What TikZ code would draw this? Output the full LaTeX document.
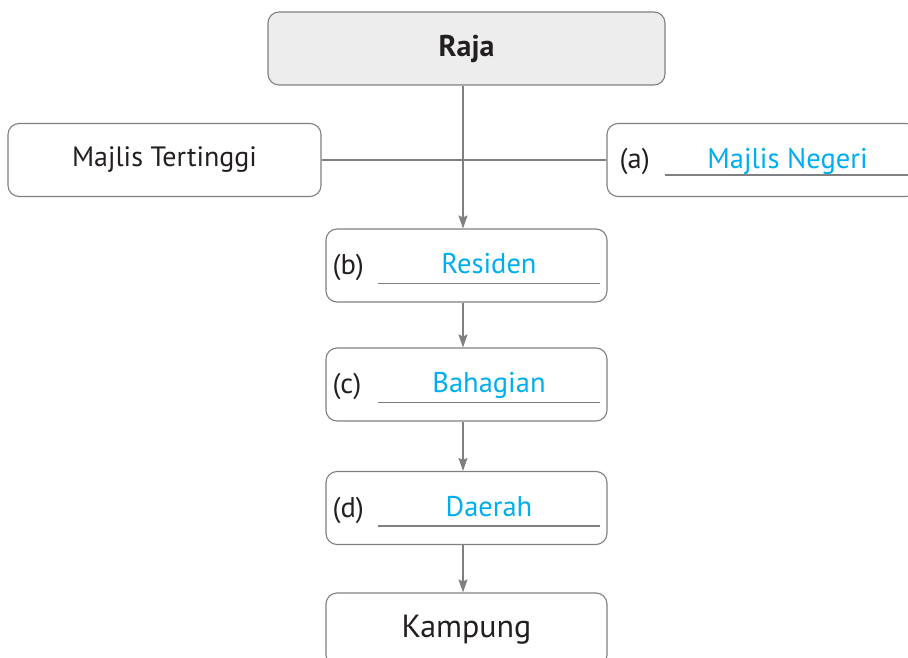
\documentclass[tikz,border=0pt]{standalone}
\usepackage{fontspec}
\setmainfont{PT Sans}
\usepackage{xcolor}
\usepackage{tikz}
\usetikzlibrary{calc,arrows.meta,positioning}
\definecolor{lineGray}{RGB}{128,128,130}
\definecolor{rajaFill}{RGB}{237,237,237}
\definecolor{ansBlue}{RGB}{0,174,239}
\definecolor{txtDark}{RGB}{35,31,32}

\tikzset{
  orgbox/.style={draw=lineGray, line width=1.1pt, rounded corners=11pt, minimum height=73pt,
    inner sep=0pt, text=txtDark, font=\fontsize{28}{32}\selectfont},
  tag/.style={anchor=base west, inner sep=0pt, text=txtDark, font=\fontsize{28.5}{32}\selectfont},
  answer/.style={anchor=base, inner sep=0pt, text=ansBlue, font=\fontsize{28.5}{32}\selectfont},
  uline/.style={draw=lineGray, line width=1.1pt},
  link/.style={draw=lineGray, line width=1.1pt},
  flow/.style={link, -{Stealth[length=13pt,width=9pt,inset=2pt]}}
}

\begin{document}
\begin{tikzpicture}[x=1pt,y=-1pt]
    \useasboundingbox (0,0) rectangle (908,658);
    \clip (0,0) rectangle (908,658);

    % top
    \node[orgbox, fill=rajaFill, minimum width=397pt, font=\fontsize{30}{34}\selectfont\bfseries] (raja) at (466.5,48.5) {Raja};
    \node[orgbox, minimum width=313pt] (tertinggi) at (164.5,160) {Majlis Tertinggi};
    \node[orgbox, minimum width=310pt] (negeri) at (762,160) {};

    % chain
    \node[orgbox, minimum width=281pt] (residen) at (466.5,265.5) {};
    \node[orgbox, minimum width=281pt] (bahagian) at (466.5,384.5) {};
    \node[orgbox, minimum width=281pt] (daerah) at (466.5,508) {};
    \node[orgbox, minimum width=281pt, font=\fontsize{32}{36}\selectfont] (kampung) at (466.5,629.5) {\raisebox{-2pt}{Kampung}};

    % (a)
    \node[tag] (tagA) at ($(negeri.west)+(13,9)$) {(a)};
    \draw[uline] ($(negeri.west)+(59,15)$) coordinate (ulA) -- ($(negeri.east)+(-8,15)$) coordinate (urA);
    \node[answer] (ansA) at ($(ulA)!0.5!(urA)+(0,-7)$) {Majlis Negeri};

    % (b)
    \node[tag] (tagB) at ($(residen.west)+(7,9)$) {(b)};
    \draw[uline] ($(residen.west)+(53,18)$) coordinate (ulB) -- ($(residen.east)+(-8,18)$) coordinate (urB);
    \node[answer] (ansB) at ($(ulB)!0.5!(urB)+(0,-10)$) {Residen};

    % (c)
    \node[tag] (tagC) at ($(bahagian.west)+(7,9)$) {(c)};
    \draw[uline] ($(bahagian.west)+(53,18)$) coordinate (ulC) -- ($(bahagian.east)+(-8,18)$) coordinate (urC);
    \node[answer] (ansC) at ($(ulC)!0.5!(urC)+(0,-10)$) {Bahagian};

    % (d)
    \node[tag] (tagD) at ($(daerah.west)+(7,9)$) {(d)};
    \draw[uline] ($(daerah.west)+(53,18)$) coordinate (ulD) -- ($(daerah.east)+(-8,18)$) coordinate (urD);
    \node[answer] (ansD) at ($(ulD)!0.5!(urD)+(0,-10)$) {Daerah};

    % connectors
    \draw[link] (tertinggi.east) -- (negeri.west);
    \draw[flow] ([xshift=-3.5pt]raja.south) -- ([xshift=-3.5pt]residen.north);
    \draw[flow] ([xshift=-3.5pt]residen.south) -- ([xshift=-3.5pt]bahagian.north);
    \draw[flow] ([xshift=-3.5pt]bahagian.south) -- ([xshift=-3.5pt]daerah.north);
    \draw[flow] ([xshift=-3.5pt]daerah.south) -- ([xshift=-3.5pt]kampung.north);
\end{tikzpicture}
\end{document}
